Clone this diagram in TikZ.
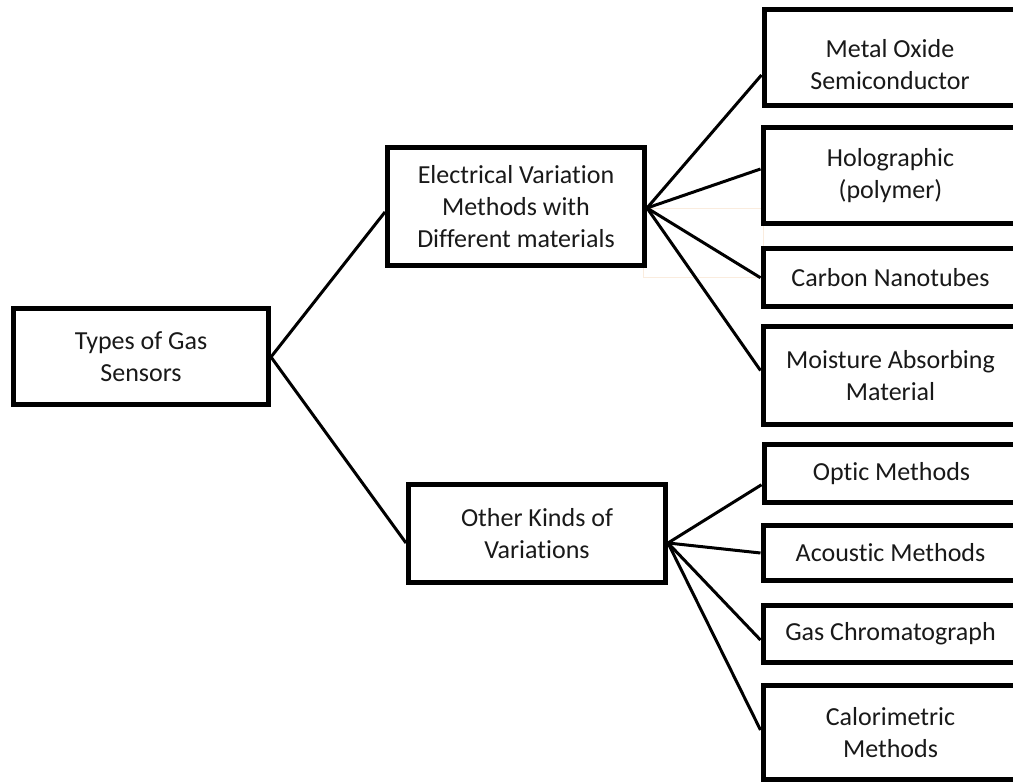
\documentclass[tikz,border=0pt]{standalone}
\usepackage{fontspec}
\setmainfont{Carlito}[Ligatures=NoCommon]
\usetikzlibrary{calc}
\definecolor{ghost}{RGB}{250,236,222}
\tikzset{
  box/.style={draw=black, line width=5pt, rectangle, inner sep=0pt, align=center,
    font=\fontsize{26}{32}\selectfont, text=black!90},
  rbox/.style={box, minimum width=255pt},
  label text/.style={inner sep=0pt, align=center, font=\fontsize{26}{32}\selectfont, text=black!90},
  link/.style={draw=black, line width=3pt},
}
\begin{document}
\begin{tikzpicture}[x=1pt,y=-1pt]
\useasboundingbox (0,0) rectangle (1013,783);
\clip (0,0) rectangle (1013,783);
\fill[white] (0,0) rectangle (1013,783);
% faint artifact rectangle
\draw[ghost, line width=1pt] (643,209) rectangle (763,278);

\node[box, minimum width=255pt, minimum height=96pt] (types) at (141,357) {Types of Gas\\Sensors};
\node[box, minimum width=257pt, minimum height=118pt] (elec) at (516,207) {Electrical Variation\\Methods with\\Different materials};
\node[box, minimum width=257pt, minimum height=98pt] (other) at (537,534) {Other Kinds of\\Variations};

\node[rbox, minimum height=96pt] (mos) at (891.5,58) {};
\node[label text] (mostext) at (890,65) {Metal Oxide\\Semiconductor};
\node[rbox, minimum height=96pt] (holo) at (890.5,176) {Holographic\\(polymer)};
\node[rbox, minimum height=58.5pt] (cnt) at (890.5,277.75) {Carbon Nanotubes};
\node[rbox, minimum height=98pt] (moist) at (890.5,375.5) {Moisture Absorbing\\Material};
\node[rbox, minimum height=57.5pt] (optic) at (891.5,473.75) {Optic Methods};
\node[rbox, minimum height=55pt] (acou) at (890.5,553) {Acoustic Methods};
\node[rbox, minimum height=57pt] (gc) at (890.5,633.5) {Gas Chromatograph};
\node[rbox, minimum height=94pt] (cal) at (890.5,732.5) {Calorimetric\\Methods};

\coordinate (ef) at ($(elec.east)+(0,1)$);
\coordinate (of) at ($(other.east)+(0,9)$);

\draw[link] (types.east) -- ($(elec.west)+(0,5)$);
\draw[link] (types.east) -- ($(other.west)+(0,9)$);

\draw[link] (ef) -- ($(mos.west)+(0,17)$);
\draw[link] (ef) -- ($(holo.west)+(0,-7)$);
\draw[link] (ef) -- ($(cnt.west)+(0,0)$);
\draw[link] (ef) -- ($(moist.west)+(0,-5)$);

\draw[link] (of) -- ($(optic.west)+(0,11)$);
\draw[link] (of) -- ($(acou.west)+(0,0)$);
\draw[link] (of) -- ($(gc.west)+(0,6.5)$);
\draw[link] (of) -- ($(cal.west)+(0,-2.5)$);
\end{tikzpicture}
\end{document}
